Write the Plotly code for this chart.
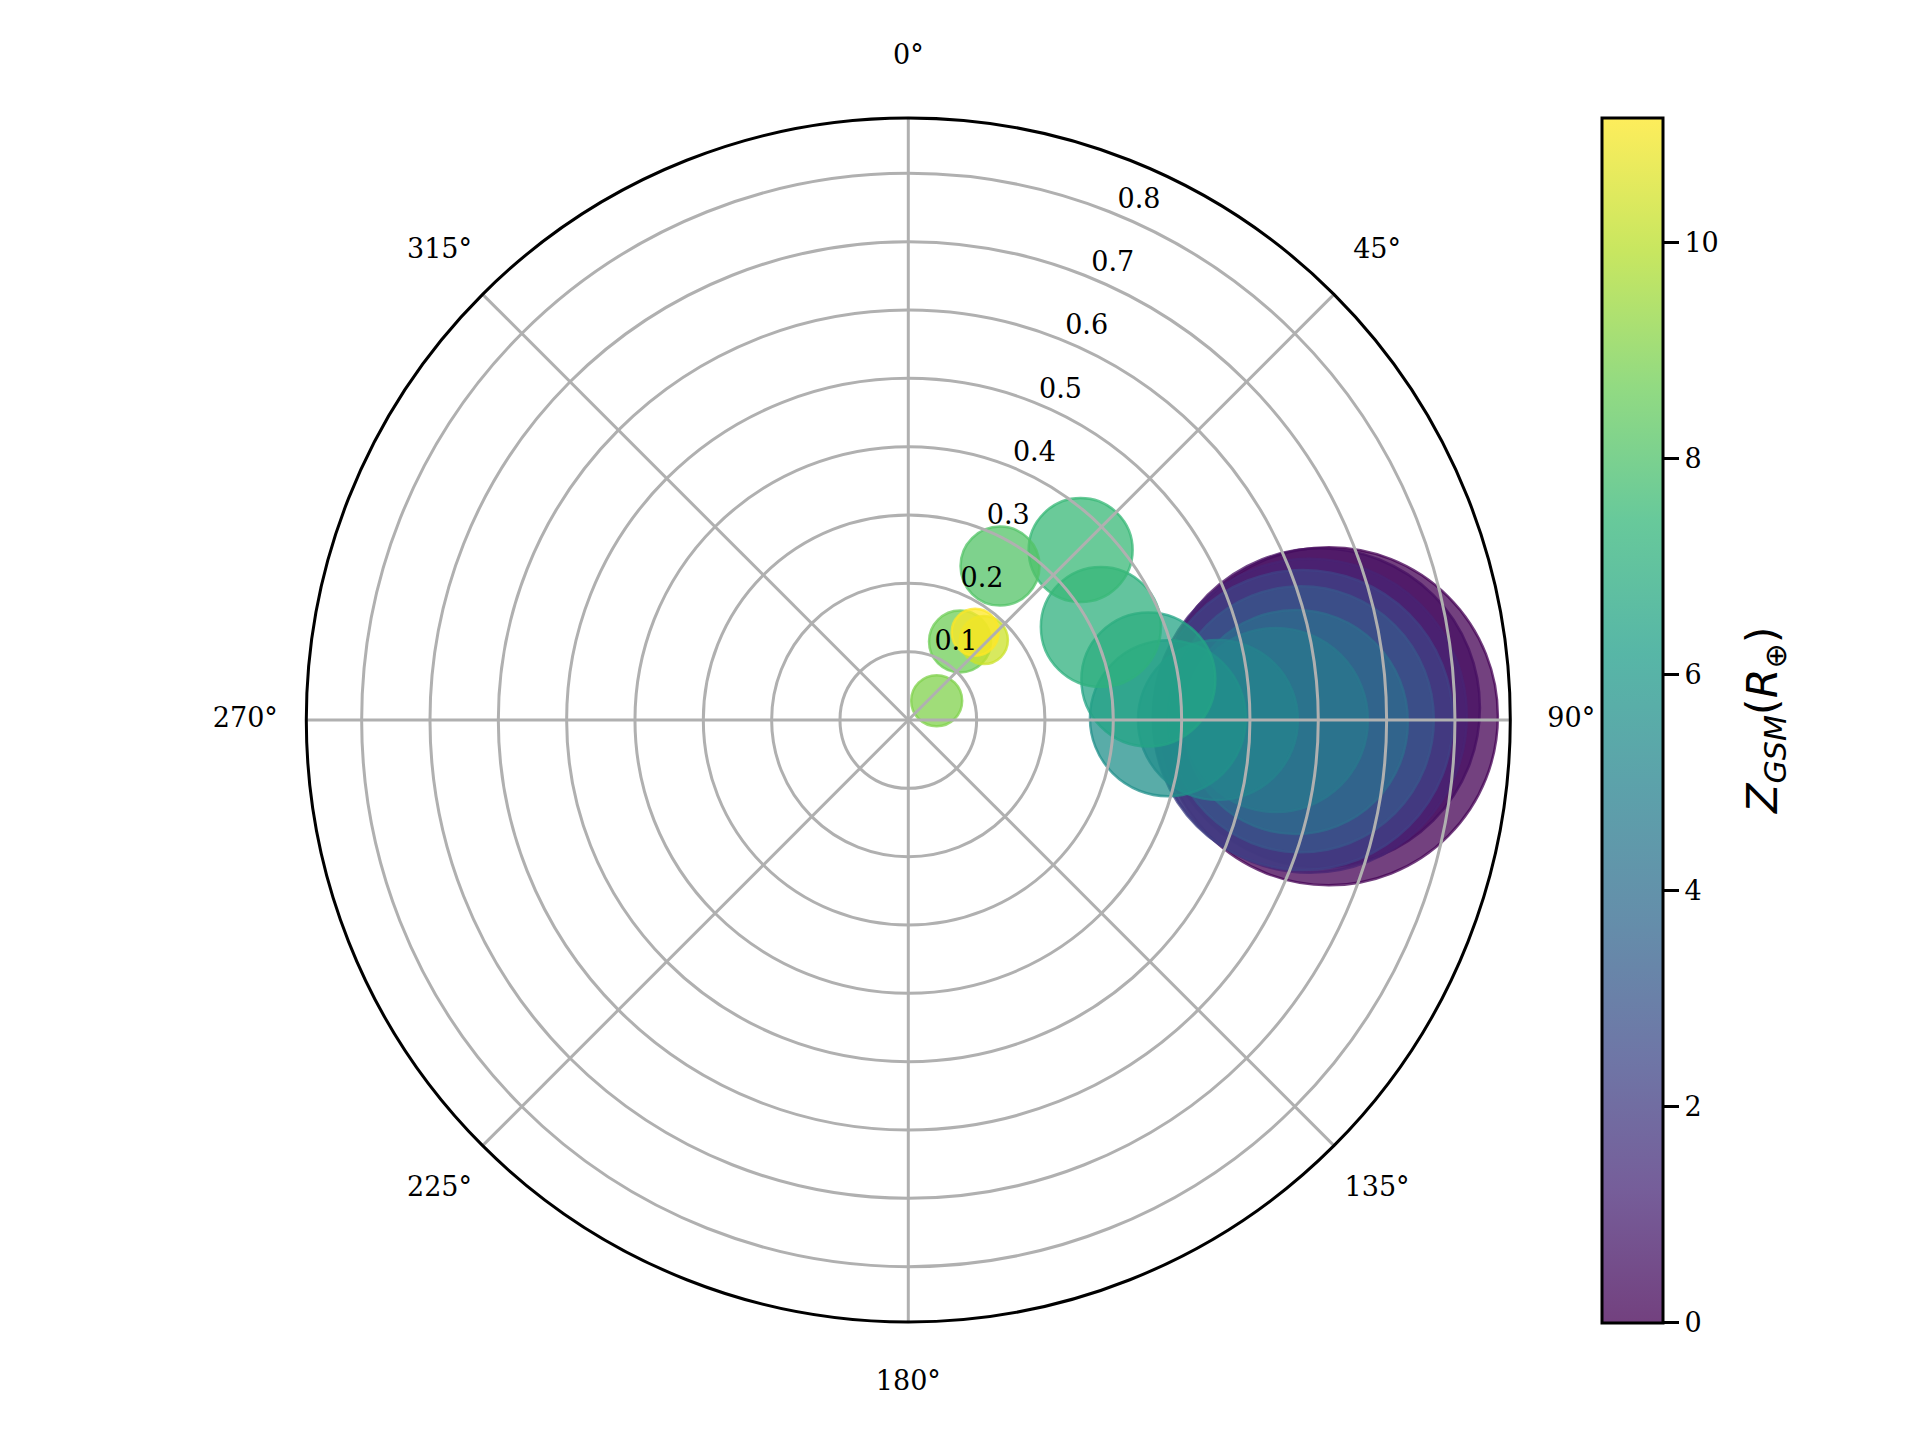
import plotly.graph_objects as go
from plotly.colors import sequential, hex_to_rgb

# bubble positions (radius, angle in degrees clockwise from north)
r_vals = [0.6155, 0.6034, 0.5877, 0.5775, 0.5745, 0.5672, 0.538, 0.4531, 0.380,
          0.3563, 0.313, 0.3542, 0.2622, 0.1375, 0.0502, 0.161, 0.1615]
theta_vals = [89.5, 88.3, 89.4, 90.0, 89.9, 90.3, 90.0, 90.0, 89.6,
              80.4, 64.2, 45.4, 30.8, 33.4, 55.8, 43.4, 37.3]
# Z_GSM values (colour)
z_vals = [0.0, 0.45, 1.1, 2.2, 3.0, 3.9, 4.5, 5.0, 5.6,
          6.5, 7.1, 7.5, 8.1, 8.7, 9.0, 10.3, 11.16]
# bubble diameters
bubble_size = [338, 319, 314, 300, 266, 224, 184, 160, 156,
               134, 120, 104, 79, 62, 51, 48, 47]

r_ticks = [0.1, 0.2, 0.3, 0.4, 0.5, 0.6, 0.7, 0.8]
theta_ticks = [0, 45, 90, 135, 180, 225, 270, 315]
cbar_ticks = [0, 2, 4, 6, 8, 10]
z_max = 11.16
r_max = 0.881

# viridis with alpha 0.75, like the matplotlib scatter
n = len(sequential.Viridis)
viridis_a = [[i / (n - 1), "rgba({},{},{},0.75)".format(*hex_to_rgb(c))]
             for i, c in enumerate(sequential.Viridis)]

serif = "DejaVu Serif"
tick_font = dict(family=serif, size=27, color="black")

# plot geometry in px (page body adds an 8px margin)
W, H = 1920, 1440
cx, cy = 908.3 - 8, 720 - 8
R_plot = 602          # outer circle of the data axes
R_lab = 700           # invisible outer axes that carries the angle labels
lab_ring = 663        # centre of the angle labels


def square_domain(rad):
    return dict(x=[(cx - rad) / W, (cx + rad) / W],
                y=[1 - (cy + rad) / H, 1 - (cy - rad) / H])


fig = go.Figure()

# bubbles (bottom layer)
fig.add_trace(go.Scatterpolar(
    r=r_vals,
    theta=theta_vals,
    mode="markers",
    marker=dict(
        size=bubble_size,
        opacity=1,  # alpha is already in the colours
        color=z_vals,
        colorscale=viridis_a,
        cmin=0, cmax=z_max,
        line=dict(color=z_vals, colorscale=viridis_a, cmin=0, cmax=z_max, width=2.5),
        colorbar=dict(
            x=(1602 - 8) / W, xanchor="left", xpad=0, ypad=0,
            y=1 - cy / H, yanchor="middle",
            thickness=61, thicknessmode="pixels",
            len=1205, lenmode="pixels",
            outlinewidth=3, outlinecolor="black",
            ticks="outside", ticklen=15, tickwidth=3, tickcolor="black",
            tickvals=cbar_ticks,
            tickfont=tick_font,
        ),
    ),
    showlegend=False,
))

# angular tick labels, centred on a ring outside the data axes
lab_range = r_max * R_lab / R_plot
fig.add_trace(go.Scatterpolar(
    r=[r_max * lab_ring / R_plot] * len(theta_ticks),
    theta=theta_ticks,
    mode="text",
    text=[f"{t}°" for t in theta_ticks],
    textposition="middle center",
    textfont=tick_font,
    cliponaxis=False,
    hoverinfo="skip",
    showlegend=False,
    subplot="polar2",
))

# radial tick labels on the overlay axes (grid drawn above the bubbles)
fig.add_trace(go.Scatterpolar(
    r=r_ticks,
    theta=[22.5] * len(r_ticks),
    mode="text",
    text=[f"{v:.1f}" for v in r_ticks],
    textposition="top right",
    textfont=tick_font,
    cliponaxis=False,
    hoverinfo="skip",
    showlegend=False,
    subplot="polar3",
))

fig.add_annotation(
    text="<i>Z</i><sub><i>GSM</i></sub>(<i>R</i><sub>⊕</sub>)",
    xref="paper", yref="paper",
    x=1757 / W, y=1 - 712 / H,
    xanchor="center", yanchor="middle",
    textangle=-90, showarrow=False,
    font=dict(family="DejaVu Sans", size=43, color="black"),
)

hidden = dict(showgrid=False, showline=False, showticklabels=False, ticks="")

fig.update_layout(
    width=W, height=H,
    margin=dict(l=0, r=0, t=0, b=0),
    paper_bgcolor="white",
    polar=dict(
        domain=square_domain(R_plot),
        bgcolor="white",
        angularaxis=dict(rotation=90, direction="clockwise", **hidden),
        radialaxis=dict(range=[0, r_max], **hidden),
    ),
    polar2=dict(
        domain=square_domain(R_lab),
        bgcolor="rgba(0,0,0,0)",
        angularaxis=dict(rotation=90, direction="clockwise", **hidden),
        radialaxis=dict(range=[0, lab_range], **hidden),
    ),
    polar3=dict(
        domain=square_domain(R_plot),
        bgcolor="rgba(0,0,0,0)",
        angularaxis=dict(
            rotation=90, direction="clockwise",
            tickmode="linear", tick0=0, dtick=45,
            showline=True, linecolor="black", linewidth=3,
            gridcolor="#b0b0b0", gridwidth=3,
            ticks="", showticklabels=False,
        ),
        radialaxis=dict(
            range=[0, r_max],
            tickvals=r_ticks,
            showline=False, ticks="", showticklabels=False,
            gridcolor="#b0b0b0", gridwidth=3,
        ),
    ),
)

fig.write_html("out.html")
